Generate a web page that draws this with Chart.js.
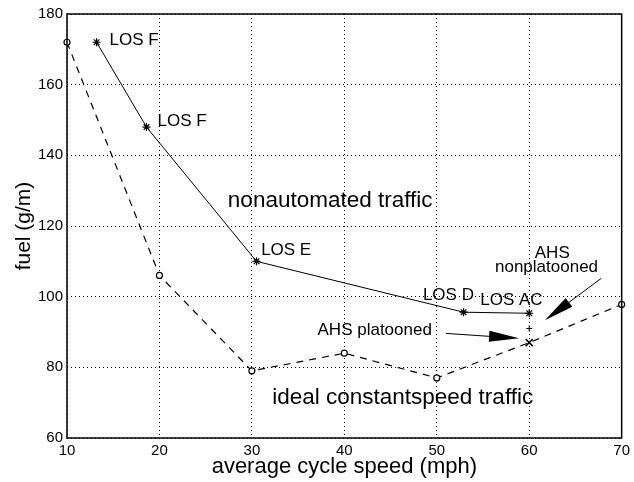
<!DOCTYPE html>
<html>
<head>
<meta charset="utf-8">
<script src="https://cdn.jsdelivr.net/npm/chart.js@4/dist/chart.umd.min.js"></script>
<style>
	body { margin: 0; background: #fff; }
	canvas { display: block; }
</style>
</head>
<body>
<canvas id="fuelChart" width="634" height="482"></canvas>
<script>
// 데이터
const nonautoSpeed = [13.2, 18.6, 30.5, 52.9, 60];
const nonautoFuel = [172, 148, 110, 95.6, 95.3];

const idealSpeed = [10, 20, 30, 40, 50, 60, 70];
const idealFuel = [172, 106, 79, 84, 77, 87, 97.8];

const ahsNonplatooned = [{ x: 60, y: 91 }];
const ahsPlatooned = [{ x: 60, y: 87 }];

const xTicks = [10, 20, 30, 40, 50, 60, 70];
const yTicks = [60, 80, 100, 120, 140, 160, 180];

// 주석 텍스트: [텍스트, x, y(기준선), 크기]
const labels = [
	['LOS F', 14.6, 171.2, 17],
	['LOS F', 19.8, 148.3, 17],
	['nonautomated traffic', 27.4, 125.4, 22.5],
	['LOS E', 31.0, 111.8, 17],
	['LOS D', 48.5, 99.0, 17],
	['LOS AC', 54.7, 97.6, 17],
	['AHS', 60.6, 111.0, 17],
	['nonplatooned', 56.3, 107.0, 17],
	['AHS platooned', 37.1, 89.1, 17],
	['ideal constantspeed traffic', 32.2, 69.6, 22.5]
];

// 화살표: [시작x, 시작y, 끝x, 끝y]
const arrows = [
	[51.0, 89.6, 58.9, 88.2],
	[67.8, 105.2, 61.7, 93.3]
];

const FONT = "'Liberation Sans', Arial, sans-serif";

const toPoints = (xs, ys) => xs.map((x, i) => ({ x: x, y: ys[i] }));

// 테두리, 주석, 화살표 그리기
const annotatePlugin = {
	id: 'annotate',
	afterDatasetsDraw(chart) {
		const ctx = chart.ctx;
		const xs = chart.scales.x;
		const ys = chart.scales.y;
		const area = chart.chartArea;
		ctx.save();
		ctx.strokeStyle = '#000';
		ctx.lineWidth = 1.5;
		ctx.setLineDash([]);
		ctx.strokeRect(area.left, area.top, area.right - area.left, area.bottom - area.top);

		ctx.fillStyle = '#000';
		ctx.textAlign = 'left';
		ctx.textBaseline = 'alphabetic';
		labels.forEach(l => {
			ctx.font = l[3] + 'px ' + FONT;
			ctx.fillText(l[0], xs.getPixelForValue(l[1]), ys.getPixelForValue(l[2]));
		});

		arrows.forEach(a => {
			const x1 = xs.getPixelForValue(a[0]), y1 = ys.getPixelForValue(a[1]);
			const x2 = xs.getPixelForValue(a[2]), y2 = ys.getPixelForValue(a[3]);
			const ang = Math.atan2(y2 - y1, x2 - x1);
			const len = 30, half = 5.5;
			const bx = x2 - len * Math.cos(ang), by = y2 - len * Math.sin(ang);
			ctx.lineWidth = 1;
			ctx.beginPath();
			ctx.moveTo(x1, y1);
			ctx.lineTo(bx, by);
			ctx.stroke();
			ctx.beginPath();
			ctx.moveTo(x2, y2);
			ctx.lineTo(bx - half * Math.sin(ang), by + half * Math.cos(ang));
			ctx.lineTo(bx + half * Math.sin(ang), by - half * Math.cos(ang));
			ctx.closePath();
			ctx.fill();
		});
		ctx.restore();
	}
};

new Chart(document.getElementById('fuelChart'), {
	type: 'scatter',
	data: {
		datasets: [
			{
				label: 'nonautomated traffic',
				data: toPoints(nonautoSpeed, nonautoFuel),
				showLine: true,
				borderColor: '#000',
				borderWidth: 1,
				pointStyle: 'star',
				pointRadius: 4,
				pointBorderColor: '#000',
				pointBorderWidth: 1.2,
				clip: false
			},
			{
				label: 'ideal constantspeed traffic',
				data: toPoints(idealSpeed, idealFuel),
				showLine: true,
				borderColor: '#000',
				borderWidth: 1.2,
				borderDash: [7, 6],
				pointStyle: 'circle',
				pointRadius: idealSpeed.map(s => s === 60 ? 0 : 3),
				pointBackgroundColor: '#fff',
				pointBorderColor: '#000',
				pointBorderWidth: 1.2,
				clip: false
			},
			{
				label: 'AHS nonplatooned',
				data: ahsNonplatooned,
				pointStyle: 'cross',
				pointRadius: 3,
				pointBorderColor: '#000',
				pointBorderWidth: 1
			},
			{
				label: 'AHS platooned',
				data: ahsPlatooned,
				pointStyle: 'crossRot',
				pointRadius: 5,
				pointBorderColor: '#000',
				pointBorderWidth: 1.5
			}
		]
	},
	options: {
		responsive: false,
		animation: false,
		layout: { padding: { top: 14, right: 9, left: 0, bottom: 0 } },
		plugins: {
			legend: { display: false },
			tooltip: { enabled: false }
		},
		scales: {
			x: {
				type: 'linear',
				min: 10,
				max: 70,
				afterBuildTicks: axis => { axis.ticks = xTicks.map(v => ({ value: v })); },
				afterFit: axis => { axis.height = 44; },
				grid: { color: '#000', lineWidth: 1, drawTicks: false },
				border: { display: false, dash: [1, 3] },
				ticks: { color: '#000', padding: 4, maxRotation: 0, font: { family: FONT, size: 15 } },
				title: {
					display: true,
					text: 'average cycle speed (mph)',
					color: '#000',
					font: { family: FONT, size: 22 },
					padding: { top: 0, bottom: 2 }
				}
			},
			y: {
				type: 'linear',
				min: 60,
				max: 180,
				afterBuildTicks: axis => { axis.ticks = yTicks.map(v => ({ value: v })); },
				afterFit: axis => { axis.width = 67; },
				grid: { color: '#000', lineWidth: 1, drawTicks: false },
				border: { display: false, dash: [1, 3] },
				ticks: { color: '#000', padding: 4, font: { family: FONT, size: 15 } },
				title: {
					display: true,
					text: 'fuel (g/m)',
					color: '#000',
					font: { family: FONT, size: 21 },
					padding: { top: 12, bottom: 0 }
				}
			}
		}
	},
	plugins: [annotatePlugin]
});
</script>
</body>
</html>
